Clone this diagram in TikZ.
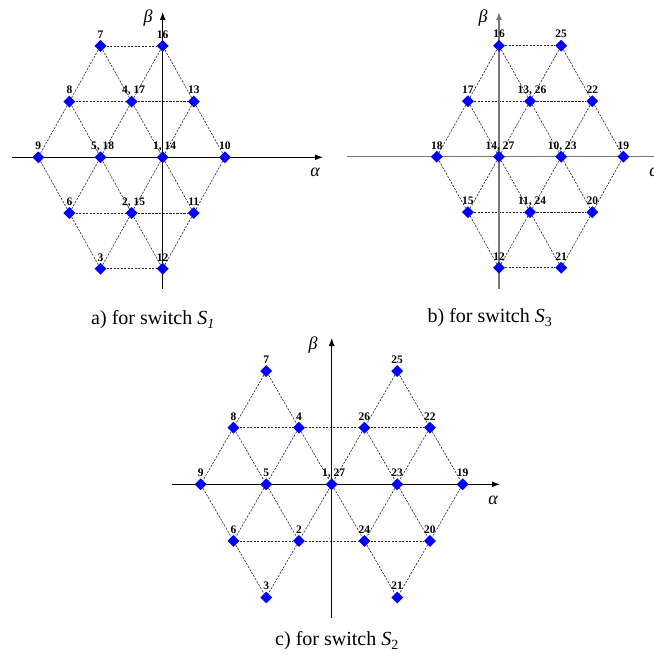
\documentclass[tikz,border=0pt]{standalone}
\usepackage{fontspec}
\setmainfont{Liberation Serif}
\usetikzlibrary{shapes.geometric,arrows.meta}
\pgfdeclarelayer{background}
\pgfsetlayers{background,main}
\definecolor{axgray}{RGB}{120,120,120}
\newcommand\mypt[5][]{\node[ptmark,label={[lbltxt,#1]90:{#5}}] (#2) at (#3,#4) {};}
\begin{document}
\begin{tikzpicture}[x=1bp,y=-1bp,
  ptmark/.style={diamond,fill=blue,draw=none,inner sep=0pt,minimum width=12bp,minimum height=12bp,aspect=1},
  lbltxt/.style={font=\fontsize{11.5bp}{12bp}\selectfont\bfseries,inner sep=0pt,anchor=base,label distance=1.5bp},
  latline/.style={draw=black!85,line width=0.6bp,dash pattern=on 2.2bp off 1.3bp},
  axisline/.style={draw=black,line width=1.1bp,-{Latex[length=8bp,width=6bp]}},
  greektxt/.style={font=\fontsize{18bp}{20bp}\selectfont\itshape,inner sep=0pt},
  captxt/.style={font=\fontsize{20bp}{22bp}\selectfont,inner sep=0pt}]
\useasboundingbox (0,0) rectangle (654,655);

% ---------------- panel a ----------------
\begin{scope}[shift={(162.7,157.3)},x=31.1bp,y=55.7bp]
\mypt{a7}{-2}{2}{7}
\mypt{a16}{0}{2}{16}
\mypt{a8}{-3}{1}{8}
\mypt[xshift=2bp]{a4}{-1}{1}{4, 17}
\mypt{a13}{1}{1}{13}
\mypt{a9}{-4}{0}{9}
\mypt[xshift=2bp]{a5}{-2}{0}{5, 18}
\mypt[xshift=2bp]{a1}{0}{0}{1, 14}
\mypt{a10}{2}{0}{10}
\mypt{a6}{-3}{-1}{6}
\mypt[xshift=2bp]{a2}{-1}{-1}{2, 15}
\mypt{a11}{1}{-1}{11}
\mypt{a3}{-2}{-2}{3}
\mypt{a12}{0}{-2}{12}
\end{scope}
\coordinate (aXL) at (12,157.3);
\coordinate (aXR) at (323,157.3);
\coordinate (aYB) at (162.7,289);
\coordinate (aYT) at (162.7,12);
\node[greektxt] (alphaA) at (315,172) {α};
\node[greektxt] (betaA) at (148,18) {β};
\begin{pgfonlayer}{background}
\foreach \u/\v in {a7/a16,a8/a4,a4/a13,a6/a2,a2/a11,a3/a12,
  a7/a8,a7/a4,a16/a4,a16/a13,a8/a9,a8/a5,a4/a5,a4/a1,a13/a1,a13/a10,
  a9/a6,a5/a6,a5/a2,a1/a2,a1/a11,a10/a11,a6/a3,a2/a3,a2/a12,a11/a12}
  \draw[latline] (\u) -- (\v);
\draw[axisline] (aXL) -- (aXR);
\draw[axisline] (aYB) -- (aYT);
\end{pgfonlayer}

% ---------------- panel b ----------------
\begin{scope}[shift={(499,156.7)},x=31.1bp,y=55.5bp]
\mypt{b16}{0}{2}{16}
\mypt{b25}{2}{2}{25}
\mypt{b17}{-1}{1}{17}
\mypt[xshift=2bp]{b13}{1}{1}{13, 26}
\mypt{b22}{3}{1}{22}
\mypt{b18}{-2}{0}{18}
\mypt[xshift=1bp]{b14}{0}{0}{14, 27}
\mypt[xshift=1bp]{b10}{2}{0}{10, 23}
\mypt{b19}{4}{0}{19}
\mypt{b15}{-1}{-1}{15}
\mypt[xshift=2bp]{b11}{1}{-1}{11, 24}
\mypt{b20}{3}{-1}{20}
\mypt{b12}{0}{-2}{12}
\mypt{b21}{2}{-2}{21}
\end{scope}
\coordinate (bXL) at (347.3,156.7);
\coordinate (bXR) at (663,156.7);
\coordinate (bYB) at (499,289);
\coordinate (bYT) at (499,12);
\node[greektxt] (alphaB) at (654,172) {α};
\node[greektxt] (betaB) at (483,18) {β};
\begin{pgfonlayer}{background}
\foreach \u/\v in {b16/b25,b17/b13,b13/b22,b15/b11,b11/b20,b12/b21,
  b16/b17,b16/b13,b25/b13,b25/b22,b17/b18,b17/b14,b13/b14,b13/b10,b22/b10,b22/b19,
  b18/b15,b14/b15,b14/b11,b10/b11,b10/b20,b19/b20,b15/b12,b11/b12,b11/b21,b20/b21}
  \draw[latline] (\u) -- (\v);
\draw[axisline,draw=axgray] (bXL) -- (bXR);
\draw[axisline,draw=axgray] (bYB) -- (bYT);
\end{pgfonlayer}

% ---------------- panel c ----------------
\begin{scope}[shift={(331.7,484.3)},x=32.75bp,y=56.6bp]
\mypt{c7}{-2}{2}{7}
\mypt{c25}{2}{2}{25}
\mypt{c8}{-3}{1}{8}
\mypt{c4}{-1}{1}{4}
\mypt{c26}{1}{1}{26}
\mypt{c22}{3}{1}{22}
\mypt{c9}{-4}{0}{9}
\mypt{c5}{-2}{0}{5}
\mypt[xshift=2bp]{c1}{0}{0}{1, 27}
\mypt{c23}{2}{0}{23}
\mypt{c19}{4}{0}{19}
\mypt{c6}{-3}{-1}{6}
\mypt{c2}{-1}{-1}{2}
\mypt{c24}{1}{-1}{24}
\mypt{c20}{3}{-1}{20}
\mypt{c3}{-2}{-2}{3}
\mypt{c21}{2}{-2}{21}
\end{scope}
\coordinate (cXL) at (172,484.3);
\coordinate (cXR) at (500,484.3);
\coordinate (cYB) at (331.7,618);
\coordinate (cYT) at (331.7,338);
\node[greektxt] (alphaC) at (493,500) {α};
\node[greektxt] (betaC) at (313,345) {β};
\begin{pgfonlayer}{background}
\foreach \u/\v in {c8/c4,c4/c26,c26/c22,c6/c2,c2/c24,c24/c20,
  c7/c8,c7/c4,c8/c9,c8/c5,c4/c5,c4/c1,c9/c6,c5/c6,c5/c2,c1/c2,c6/c3,c2/c3,
  c25/c26,c25/c22,c26/c1,c26/c23,c22/c23,c22/c19,c1/c24,c23/c24,c23/c20,c19/c20,c24/c21,c20/c21}
  \draw[latline] (\u) -- (\v);
\draw[axisline] (cXL) -- (cXR);
\draw[axisline] (cYB) -- (cYT);
\end{pgfonlayer}

% ---------------- captions ----------------
\node[captxt] (capA) at (153,320) {a) for switch \textit{S}\textsubscript{\textit{1}}};
\node[captxt] (capB) at (490,318) {b) for switch \textit{S}\textsubscript{3}};
\node[captxt] (capC) at (337,641) {c) for switch \textit{S}\textsubscript{2}};
\end{tikzpicture}
\end{document}
